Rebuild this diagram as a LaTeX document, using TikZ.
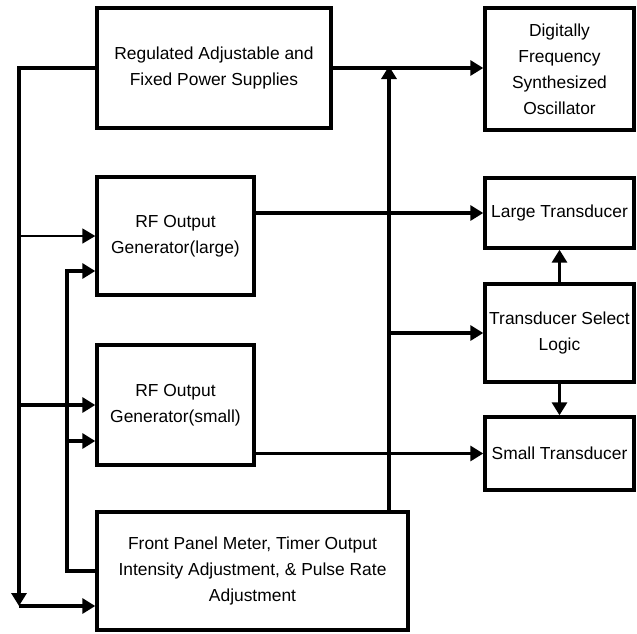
\documentclass[tikz,border=0pt]{standalone}
\usepackage{fontspec}
\setmainfont{Liberation Sans}
\usetikzlibrary{arrows.meta}

\begin{document}
\begin{tikzpicture}[x=1pt, y=-1pt,
        blk/.style={draw, line width=3.4pt, align=center, inner sep=0pt,
            font=\fontsize{17.4}{26}\selectfont},
        wire/.style={line width=3.2pt, -{Triangle[length=13pt, width=15pt]}},
        thinwire/.style={line width=1.7pt, -{Triangle[length=13pt, width=15pt]}}]
            \useasboundingbox (0, 0) rectangle (637, 633);

            \node[blk, minimum width=234, minimum height=120] (ps) at (214, 68)
                {Regulated Adjustable and\\Fixed Power Supplies};
            \node[blk, minimum width=149, minimum height=122] (osc) at (559.5, 69)
                {Digitally\\Frequency\\Synthesized\\Oscillator};
            \node[blk, minimum width=157, minimum height=118] (rfl) at (175.5, 236)
                {RF Output\\Generator(large)};
            \node[blk, minimum width=149, minimum height=70] (lt) at (559.5, 213)
                {Large Transducer};
            \node[blk, minimum width=149, minimum height=98] (tsl) at (559.5, 333)
                {Transducer Select\\Logic};
            \node[blk, minimum width=157, minimum height=120] (rfs) at (175.5, 405)
                {RF Output\\Generator(small)};
            \node[blk, minimum width=149, minimum height=73] (st) at (559.5, 453.5)
                {Small Transducer};
            \node[blk, minimum width=311, minimum height=118] (fp) at (252.5, 571)
                {Front Panel Meter, Timer Output\\Intensity Adjustment, \& Pulse Rate\\Adjustment};

            \coordinate (lbus) at (19, 606);
            \coordinate (ibus) at (67, 271);
            \coordinate (ibus2) at (67, 441);
            \coordinate (vbus) at (389, 512);

            \draw[wire] (ps.west) -| (lbus);
            \draw[wire] (lbus) -- (lbus -| fp.west);
            \draw[thinwire] (lbus |- rfl.west) -- (rfl.west);
            \draw[wire] (lbus |- rfs.west) -- (rfs.west);

            \draw[wire] (fp.west) -| (ibus) -- (ibus -| rfl.west);
            \draw[wire] (ibus2) -- (ibus2 -| rfs.west);

            \draw[wire] (ps.east) -- (osc.west |- ps.east);
            \draw[wire] (vbus) -- ([yshift=2pt]vbus |- ps.east);
            \draw[wire] (vbus |- tsl.west) -- (tsl.west);

            \draw[wire] (rfl.east |- lt.west) -- (lt.west);
            \draw[wire] (rfs.east |- st.west) -- (st.west);

            \draw[wire] (tsl.north) -- (lt.south);
            \draw[wire] (tsl.south) -- (st.north);
        \end{tikzpicture}
\end{document}
